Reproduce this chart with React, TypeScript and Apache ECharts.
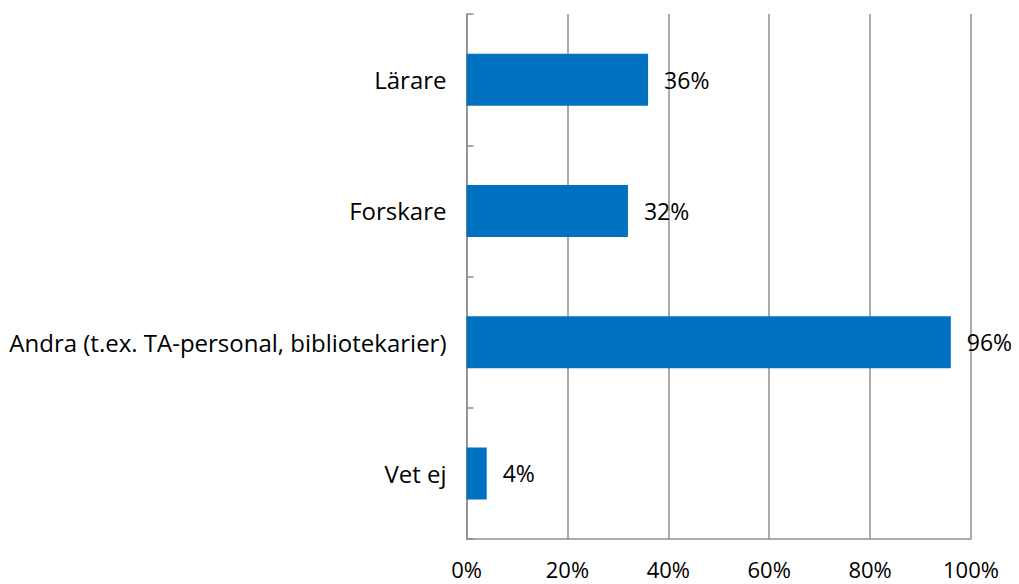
import React, { useEffect, useRef } from "react";
import * as echarts from "echarts";

const categories = ["Lärare", "Forskare", "Andra (t.ex. TA-personal, bibliotekarier)", "Vet ej"];
const values = [36, 32, 96, 4];
const xTicks = [0, 20, 40, 60, 80, 100];

export default function App() {
  const ref = useRef<HTMLDivElement>(null);
  useEffect(() => {
    if (!ref.current) return;
    const chart = echarts.init(ref.current, null, { renderer: "svg" });
    const font = "'Open Sans', sans-serif";
    const fs = 23;
    chart.setOption({
      animation: false,
      backgroundColor: "#ffffff",
      grid: { left: 466.5, right: 48, top: 14, bottom: 45, containLabel: false },
      xAxis: {
        type: "value",
        min: xTicks[0],
        max: xTicks[xTicks.length - 1],
        interval: 20,
        axisLine: { show: true, lineStyle: { color: "#8e8e8e", width: 1.5 } },
        axisTick: { show: false },
        splitLine: { show: true, lineStyle: { color: "#8e8e8e", width: 1.5 } },
        axisLabel: {
          formatter: "{value}%",
          color: "#000",
          fontFamily: font,
          fontSize: 22,
          lineHeight: 22,
          margin: 19,
        },
      },
      yAxis: {
        type: "category",
        inverse: true,
        data: categories,
        axisLine: { show: true, lineStyle: { color: "#8e8e8e", width: 1.5 } },
        axisTick: { show: true, inside: true, length: 7, lineStyle: { color: "#8e8e8e", width: 1.5 } },
        axisLabel: { color: "#000", fontFamily: font, fontSize: 24, margin: 20 },
        splitLine: { show: false },
      },
      series: [
        {
          type: "bar",
          data: values,
          barWidth: 52,
          itemStyle: { color: "#0070C0" },
          label: {
            show: true,
            position: "right",
            distance: 16,
            formatter: "{c}%",
            color: "#000",
            fontFamily: font,
            fontSize: fs,
          },
        },
      ],
    });
    return () => chart.dispose();
  }, []);
  return (
    <div
      ref={ref}
      style={{ position: "fixed", left: 0, top: 0, width: 1019, height: 584 }}
    />
  );
}
